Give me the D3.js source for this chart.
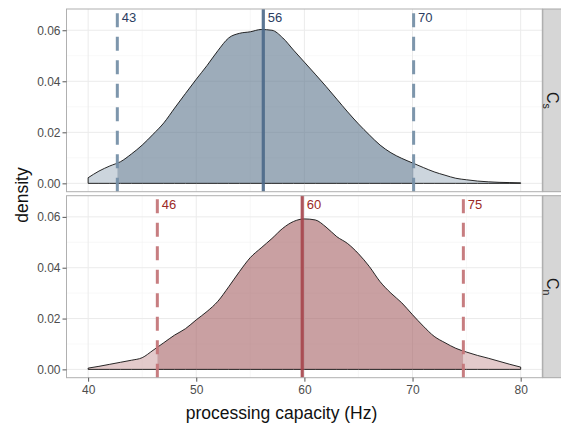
<!DOCTYPE html>
<html><head><meta charset="utf-8">
<script src="https://cdn.jsdelivr.net/npm/d3@7"></script>
<style>body{margin:0;background:#fff}svg{display:block;font-family:"Liberation Sans",Arial,sans-serif}</style>
</head><body><svg id="c" width="561" height="423"></svg>
<script>
const capacity = [40,41,42,43,44,45,46,47,48,49,50,51,52,53,54,55,56,57,58,59,60,61,62,63,64,65,66,67,68,69,70,71,72,73,74,75,76,77,78,79,80];
const densityCs = [0.0022,0.0048,0.0068,0.0085,0.0115,0.0150,0.0192,0.0237,0.0295,0.0352,0.0408,0.0462,0.0520,0.0570,0.0588,0.0594,0.0603,0.0600,0.0570,0.0522,0.0475,0.0428,0.0380,0.0330,0.0280,0.0233,0.0190,0.0150,0.0120,0.0098,0.0080,0.0062,0.0045,0.0032,0.0020,0.0014,0.0009,0.0006,0.0004,0.0003,0.0002];
const densityCn = [0.0005,0.0012,0.0020,0.0028,0.0036,0.0046,0.0075,0.0105,0.0135,0.0160,0.0195,0.0228,0.0268,0.0325,0.0385,0.0440,0.0478,0.0515,0.0555,0.0582,0.0592,0.0588,0.0560,0.0522,0.0495,0.0455,0.0405,0.0345,0.0300,0.0262,0.0215,0.0170,0.0130,0.0105,0.0083,0.0068,0.0055,0.0044,0.0032,0.0020,0.0009];
const linesCs = [42.7, 56.2, 70.1];
const labelsCs = ["43","56","70"];
const linesCn = [46.4, 59.8, 74.7];
const labelsCn = ["46","60","75"];
const xTicks = [40,50,60,70,80];
const xMinor = [45,55,65,75];
const yTicks = [0,0.02,0.04,0.06];
const yMinor = [0.01,0.03,0.05];
const labelY = 0.065;

const svg = d3.select("#c");
const x = d3.scaleLinear().domain([38,82]).range([66.5,542.3]);
const yDom = [-0.00327,0.06833];

const panels = [
  {id:"s", top:9, bottom:191.7, dens:densityCs, lines:linesCs, labels:labelsCs, sub:"s",
   dark:"rgb(92,117,140)", light:"rgb(170,185,198)", solid:"#4b6888", dashed:"#7690a8", text:"#2b3d62"},
  {id:"n", top:195.7, bottom:377.7, dens:densityCn, lines:linesCn, labels:labelsCn, sub:"n",
   dark:"rgb(165,96,100)", light:"rgb(208,166,168)", solid:"#a5444a", dashed:"#c47679", text:"#9b2a26"}
];

panels.forEach(p => {
  const y = d3.scaleLinear().domain(yDom).range([p.bottom, p.top]);
  const g = svg.append("g");
  g.append("rect").attr("x",x.range()[0]).attr("y",p.top).attr("width",x.range()[1]-x.range()[0]).attr("height",p.bottom-p.top).attr("fill","#fff");
  xMinor.forEach(v=>g.append("line").attr("x1",x(v)).attr("x2",x(v)).attr("y1",p.top).attr("y2",p.bottom).attr("stroke","#f4f4f4").attr("stroke-width",0.6));
  yMinor.forEach(v=>g.append("line").attr("x1",x.range()[0]).attr("x2",x.range()[1]).attr("y1",y(v)).attr("y2",y(v)).attr("stroke","#f4f4f4").attr("stroke-width",0.6));
  xTicks.forEach(v=>g.append("line").attr("x1",x(v)).attr("x2",x(v)).attr("y1",p.top).attr("y2",p.bottom).attr("stroke","#ebebeb").attr("stroke-width",1));
  yTicks.forEach(v=>g.append("line").attr("x1",x.range()[0]).attr("x2",x.range()[1]).attr("y1",y(v)).attr("y2",y(v)).attr("stroke","#ebebeb").attr("stroke-width",1));

  const data = capacity.map((c,i)=>[c,p.dens[i]]);
  const area = d3.area().x(d=>x(d[0])).y0(y(0)).y1(d=>y(d[1])).curve(d3.curveMonotoneX);
  const segs = [
    [x.range()[0], x(p.lines[0]), p.light],
    [x(p.lines[0]), x(p.lines[2]), p.dark],
    [x(p.lines[2]), x.range()[1], p.light]
  ];
  segs.forEach((s,i)=>{
    const cid = "clip"+p.id+i;
    svg.append("clipPath").attr("id",cid).append("rect").attr("x",s[0]).attr("y",p.top).attr("width",s[1]-s[0]).attr("height",p.bottom-p.top);
    g.append("path").datum(data).attr("d",area).attr("fill",s[2]).attr("fill-opacity",0.6).attr("clip-path",`url(#${cid})`);
  });
  g.append("path").datum(data).attr("d",area).attr("fill","none").attr("stroke","#111").attr("stroke-width",0.9);

  p.lines.forEach((v,i)=>{
    const solid = i===1;
    g.append("line").attr("x1",x(v)).attr("x2",x(v)).attr("y1",p.bottom).attr("y2",p.top)
      .attr("stroke", solid? p.solid : p.dashed).attr("stroke-width", solid?3.2:3)
      .attr("stroke-opacity", solid?0.9:0.95)
      .attr("stroke-dasharray", solid? null : "14,9.5");
    g.append("text").attr("x",x(v)+4.5).attr("y",y(labelY)).attr("dy","0.36em")
      .attr("fill",p.text).attr("font-size",13).text(p.labels[i]);
  });

  g.append("rect").attr("x",x.range()[0]).attr("y",p.top).attr("width",x.range()[1]-x.range()[0]).attr("height",p.bottom-p.top)
    .attr("fill","none").attr("stroke","#b0b0b0").attr("stroke-width",1);

  const ya = d3.axisLeft(y).tickValues(yTicks).tickFormat(d3.format(".2f")).tickSize(4).tickPadding(2);
  const ag = svg.append("g").attr("transform",`translate(${x.range()[0]},0)`).call(ya);
  ag.select(".domain").remove();
  ag.selectAll(".tick line").attr("stroke","#555");
  ag.selectAll(".tick text").attr("fill","#4d4d4d").attr("font-size",12).attr("font-family","Liberation Sans, Arial, sans-serif");

  const sx = x.range()[1]+0.5;
  svg.append("rect").attr("x",sx).attr("y",p.top).attr("width",30).attr("height",p.bottom-p.top)
    .attr("fill","#d6d6d6").attr("stroke","#a8a8a8").attr("stroke-width",1);
  const cy = (p.top+p.bottom)/2;
  const st = svg.append("text").attr("transform",`translate(${sx+4},${cy}) rotate(90)`)
    .attr("text-anchor","middle").attr("fill","#1a1a1a").attr("font-size",16);
  st.append("tspan").text("C");
  st.append("tspan").attr("font-size",10.5).attr("dy",3.5).text(p.sub);
});

const bottom = panels[1].bottom;
const xa = d3.axisBottom(x).tickValues(xTicks).tickSize(4).tickPadding(4);
const xg = svg.append("g").attr("transform",`translate(0,${bottom})`).call(xa);
xg.select(".domain").remove();
xg.selectAll(".tick line").attr("stroke","#555");
xg.selectAll(".tick text").attr("fill","#4d4d4d").attr("font-size",12).attr("font-family","Liberation Sans, Arial, sans-serif");

svg.append("text").attr("x",281.5).attr("y",418.5)
  .attr("text-anchor","middle").attr("font-size",17.5).attr("fill","#111").text("processing capacity (Hz)");
svg.append("text").attr("transform","translate(21.5,195) rotate(-90)").attr("dy","0.36em")
  .attr("text-anchor","middle").attr("font-size",17.5).attr("fill","#111").text("density");
</script></body></html>
